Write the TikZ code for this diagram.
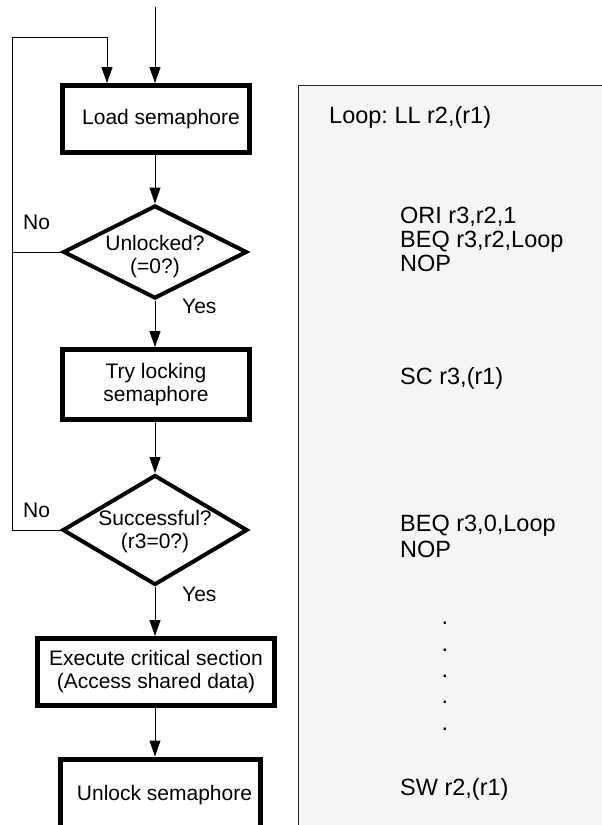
\documentclass[tikz,border=0pt]{standalone}
\usepackage{fontspec}
\setmainfont{Liberation Sans}
\usetikzlibrary{shapes.geometric,arrows.meta}
\definecolor{panelgray}{RGB}{245,245,245}
\frenchspacing
\newcommand{\flowfont}{\fontsize{21}{23}\selectfont}
\newcommand{\codefont}{\fontsize{23.5}{25}\selectfont}
\tikzset{
  stepbox/.style={draw, line width=5pt, inner sep=0pt, align=center, font=\flowfont},
  decision/.style={draw, diamond, line width=4pt, inner sep=0pt},
  flow/.style={line width=1pt, -{Triangle[length=16pt,width=11pt]}},
  link/.style={line width=1pt},
  answer/.style={anchor=base west, inner sep=0pt, font=\flowfont},
  code/.style={anchor=base west, inner sep=0pt, font=\codefont},
}

\begin{document}
\begin{tikzpicture}[x=1pt, y=-1pt]
  \useasboundingbox (0,0) rectangle (602,825);

  % listing on the right
  \draw[fill=panelgray, draw=black!85, line width=1pt] (298.5,85) rectangle (650,870);
  \node[code] (ll)    at (329,123) {Loop: LL r2,(r1)};
  \node[code] (ori)   at (400,223) {ORI r3,r2,1};
  \node[code] (beq)   at (400,247) {BEQ r3,r2,Loop};
  \node[code] (nop)   at (400,271) {NOP};
  \node[code] (sc)    at (400,384) {SC r3,(r1)};
  \node[code] (beqz)  at (400,531) {BEQ r3,0,Loop};
  \node[code] (nopz)  at (400,557) {NOP};
  \foreach \y [count=\i] in {623,650,676,702,729}
    \node[code, anchor=center] (dot\i) at (445,\y) {.};
  \node[code] (sw)    at (400,795) {SW r2,(r1)};

  % flow chart
  \node[stepbox, minimum width=187pt, minimum height=67pt] (load) at (156,119) {\hspace*{10pt}Load semaphore};
  \node[decision, minimum width=184pt, minimum height=93pt,
        label={[font=\flowfont, align=center, yshift=-5pt]center:{Unlocked?\\(=0?)}}] (unlocked) at (155,252) {};
  \node[stepbox, minimum width=187pt, minimum height=70pt] (try) at (156,384.5) {Try locking\\semaphore};
  \node[decision, minimum width=185pt, minimum height=110pt,
        label={[font=\flowfont, align=center, yshift=-2pt]center:{Successful?\\(r3=0?)}}] (success) at (155,530) {};
  \node[stepbox, minimum width=237pt, minimum height=67pt] (crit) at (156,672) {Execute critical section\\(Access shared data)};
  \node[stepbox, minimum width=200pt, minimum height=72pt] (unlock) at (160.5,795) {\hspace*{8pt}Unlock semaphore};

  \node[answer] (no1)  at (23,229)  {No};
  \node[answer] (yes1) at (182,313) {Yes};
  \node[answer] (no2)  at (23,517)  {No};
  \node[answer] (yes2) at (182,601) {Yes};

  \coordinate (entry) at (155,7);
  \coordinate (back)  at (12,37);
  \coordinate (retry) at (107,37);

  \draw[flow] (entry) -- (entry |- load.north);
  \draw[flow] (unlocked.north |- load.south) -- (unlocked.north);
  \draw[flow] (unlocked.south) -- (unlocked.south |- try.north);
  \draw[flow] (success.north |- try.south) -- (success.north);
  \draw[flow] (success.south) -- (success.south |- crit.north);
  \draw[flow] (success.south |- crit.south) -- (success.south |- unlock.north);

  % back to the load
  \draw[link] (unlocked.west) -- (unlocked.west -| back);
  \draw[flow] (success.west) -| (back) -- (retry) -- (retry |- load.north);
\end{tikzpicture}
\end{document}
